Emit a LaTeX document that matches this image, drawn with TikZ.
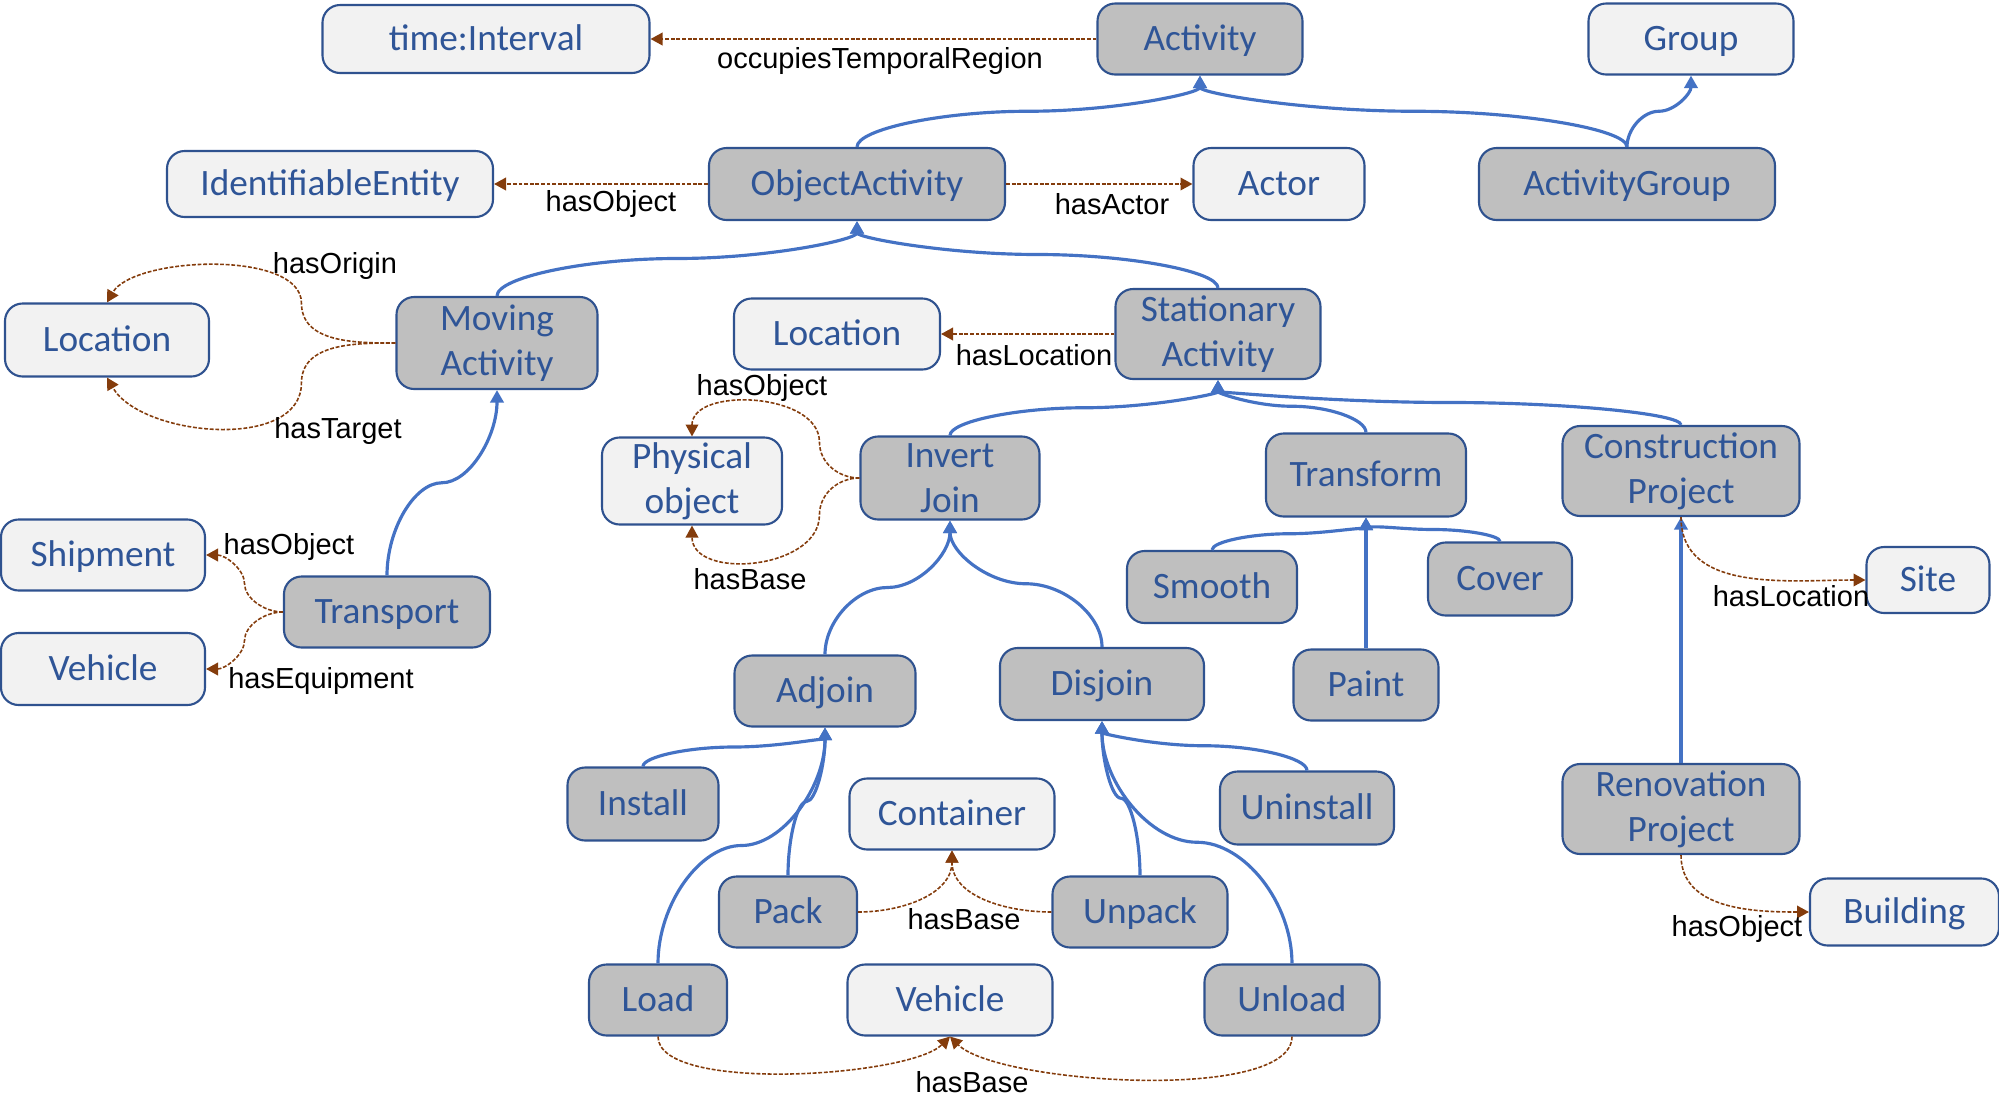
\documentclass[tikz,border=0pt]{standalone}
\usepackage{fontspec}
\setmainfont{Carlito}
\newfontfamily\propfont{Liberation Sans}
\usetikzlibrary{arrows.meta, calc}
\definecolor{boxline}{RGB}{47,82,143}
\definecolor{boxtext}{RGB}{47,85,151}
\definecolor{classfill}{RGB}{191,191,191}
\definecolor{rangefill}{RGB}{242,242,242}
\definecolor{isablue}{RGB}{68,114,196}
\definecolor{propbrown}{RGB}{132,60,12}

\begin{document}
\begin{tikzpicture}[
  actbox/.style={draw=boxline, fill=classfill, line width=0.6pt, rounded corners=5pt, text=boxtext,
    font=\fontsize{10.6}{12.8}\selectfont, align=center, inner sep=0pt, minimum height=0.71cm,
    text height=9.2pt, text depth=2.65pt},
  rangebox/.style={actbox, fill=rangefill},
  twolines/.style={text height={}, text depth={}},
  isa/.style={draw=isablue, line width=0.9pt, -{Triangle[length=3.6pt, width=3.8pt]}},
  prop/.style={draw=propbrown, line width=0.45pt, dash pattern=on 1.1pt off 0.5pt, -{Triangle[length=3.4pt, width=3.6pt]}},
  proplabel/.style={font=\propfont\fontsize{8.25}{10}\selectfont, inner sep=0pt},
  updown/.style={to path={let \p1=(\tikztostart), \p2=(\tikztotarget) in
    .. controls (\x1,{\y1+(\y2-\y1)/4}) and ({\x1+(\x2-\x1)/4},{(\y1+\y2)/2})
    .. ({(\x1+\x2)/2},{(\y1+\y2)/2})
    .. controls ({\x1+3*(\x2-\x1)/4},{(\y1+\y2)/2}) and (\x2,{\y1+3*(\y2-\y1)/4})
    .. (\tikztotarget)}},
  leftright/.style={to path={let \p1=(\tikztostart), \p2=(\tikztotarget) in
    .. controls ({\x1+(\x2-\x1)/4},\y1) and ({(\x1+\x2)/2},{\y1+(\y2-\y1)/4})
    .. ({(\x1+\x2)/2},{(\y1+\y2)/2})
    .. controls ({(\x1+\x2)/2},{\y1+3*(\y2-\y1)/4}) and ({\x1+3*(\x2-\x1)/4},\y2)
    .. (\tikztotarget)}}
]
  \useasboundingbox (0,0) rectangle (19.99,-11.14);

  % top rows
  \node[rangebox, minimum width=3.27cm, minimum height=0.68cm] (timeint) at (4.86,-0.39) {time:Interval};
  \node[actbox, minimum width=2.05cm] (act) at (12.00,-0.39) {Activity};
  \node[rangebox, minimum width=2.05cm] (group) at (16.91,-0.39) {Group};
  \node[rangebox, minimum width=3.26cm, minimum height=0.66cm] (ident) at (3.30,-1.84) {IdentifiableEntity};
  \node[actbox, minimum width=2.96cm, minimum height=0.72cm] (objact) at (8.57,-1.84) {ObjectActivity};
  \node[rangebox, minimum width=1.71cm, minimum height=0.72cm] (actor) at (12.79,-1.84) {Actor};
  \node[actbox, minimum width=2.96cm, minimum height=0.72cm] (actgroup) at (16.27,-1.84) {ActivityGroup};

  \node[rangebox, minimum width=2.04cm, minimum height=0.73cm] (locA) at (1.07,-3.40) {Location};
  \node[actbox, twolines, minimum width=2.01cm, minimum height=0.92cm] (moving) at (4.97,-3.43) {Moving\\Activity};
  \node[rangebox, minimum width=2.06cm] (locB) at (8.37,-3.34) {Location};
  \node[actbox, twolines, minimum width=2.05cm, minimum height=0.90cm] (stat) at (12.18,-3.34) {Stationary\\Activity};

  \node[rangebox, twolines, minimum width=1.80cm, minimum height=0.87cm] (phys) at (6.92,-4.81) {Physical\\object};
  \node[actbox, twolines, minimum width=1.79cm, minimum height=0.83cm] (invjoin) at (9.50,-4.78) {Invert\\Join};
  \node[actbox, minimum width=2.00cm, minimum height=0.83cm] (transform) at (13.66,-4.75) {Transform};
  \node[actbox, twolines, minimum width=2.37cm, minimum height=0.90cm] (constr) at (16.81,-4.71) {Construction\\Project};

  \node[rangebox, minimum width=2.04cm] (ship) at (1.03,-5.55) {Shipment};
  \node[actbox, minimum width=2.06cm] (transport) at (3.87,-6.12) {Transport};
  \node[rangebox, minimum width=2.04cm, minimum height=0.72cm] (vehA) at (1.03,-6.69) {Vehicle};
  \node[actbox, minimum width=1.70cm, minimum height=0.72cm] (smooth) at (12.12,-5.87) {Smooth};
  \node[actbox, minimum width=1.44cm, minimum height=0.73cm] (cover) at (15.00,-5.79) {Cover};
  \node[rangebox, minimum width=1.23cm, minimum height=0.66cm] (site) at (19.28,-5.80) {Site};

  \node[actbox, minimum width=1.81cm] (adjoin) at (8.25,-6.91) {Adjoin};
  \node[actbox, minimum width=2.04cm, minimum height=0.72cm] (disjoin) at (11.02,-6.84) {Disjoin};
  \node[actbox, minimum width=1.45cm] (paint) at (13.66,-6.85) {Paint};

  \node[actbox, minimum width=1.51cm, minimum height=0.73cm] (install) at (6.43,-8.04) {Install};
  \node[rangebox, minimum width=2.05cm] (container) at (9.52,-8.14) {Container};
  \node[actbox, minimum width=1.74cm, minimum height=0.73cm] (uninstall) at (13.07,-8.08) {Uninstall};
  \node[actbox, twolines, minimum width=2.37cm, minimum height=0.90cm] (renov) at (16.81,-8.09) {Renovation\\Project};

  \node[actbox, minimum width=1.38cm] (pack) at (7.88,-9.12) {Pack};
  \node[actbox, minimum width=1.75cm] (unpack) at (11.40,-9.12) {Unpack};
  \node[rangebox, minimum width=1.89cm, minimum height=0.67cm] (building) at (19.045,-9.12) {Building};
  \node[actbox, minimum width=1.38cm] (load) at (6.58,-10.00) {Load};
  \node[rangebox, minimum width=2.05cm] (vehB) at (9.50,-10.00) {Vehicle};
  \node[actbox, minimum width=1.75cm] (unload) at (12.92,-10.00) {Unload};

  % subclass links
  \draw[isa] (objact.north) to[updown] (act.south);
  \draw[isa] (actgroup.north) to[updown] (act.south);
  \draw[isa] (actgroup.north) to[updown] (group.south);
  \draw[isa] (moving.north) to[updown] (objact.south);
  \draw[isa] (stat.north) to[updown] (objact.south);
  \draw[isa] (transport.north) to[updown] (moving.south);
  \draw[isa] (invjoin.north) to[updown] (stat.south);
  \draw[isa] (transform.north) to[updown] (stat.south);
  \draw[isa] (constr.north) to[updown] (stat.south);
  \draw[isa] (adjoin.north) to[updown] (invjoin.south);
  \draw[isa] (disjoin.north) to[updown] (invjoin.south);
  \draw[isa] (smooth.north) to[updown] (transform.south);
  \draw[isa] (paint.north) -- (transform.south);
  \draw[isa] (cover.north) to[updown] (transform.south);
  \draw[isa] (renov.north) -- (constr.south);
  \draw[isa] (install.north) to[updown] (adjoin.south);
  \draw[isa] (pack.north) to[updown] (adjoin.south);
  \draw[isa] (load.north) to[updown] (adjoin.south);
  \draw[isa] (uninstall.north) to[updown] (disjoin.south);
  \draw[isa] (unpack.north) to[updown] (disjoin.south);
  \draw[isa] (unload.north) to[updown] (disjoin.south);

  % properties
  \draw[prop] (act.west) -- (timeint.east);
  \draw[prop] (objact.west) -- (ident.east);
  \draw[prop] (objact.east) -- (actor.west);
  \draw[prop] (moving.west) to[out=180,in=-90] ++(-0.94,0.40) to[out=90,in=60,looseness=0.7] (locA.north);
  \draw[prop] (moving.west) to[out=180,in=90] ++(-0.94,-0.40) to[out=-90,in=-60,looseness=0.9] (locA.south);
  \draw[prop] (stat.west) -- (locB.east);
  \draw[prop] (invjoin.west) to[out=180,in=-90] ++(-0.40,0.36) to[out=90,in=90,looseness=1.0] (phys.north);
  \draw[prop] (invjoin.west) to[out=180,in=90] ++(-0.40,-0.37) to[out=-90,in=-90,looseness=1.1] (phys.south);
  \draw[prop] (transport.west) to[leftright] (ship.east);
  \draw[prop] (transport.west) to[leftright] (vehA.east);
  \draw[prop] (constr.south) to[out=-90,in=180] (site.west);
  \draw[prop] (renov.south) to[out=-90,in=180] (building.west);
  \draw[prop] (pack.east) to[out=0,in=-90] (container.south);
  \draw[prop] (unpack.west) to[out=180,in=-90] (container.south);
  \draw[prop] (load.south) to[out=-90,in=-135,looseness=0.5] (vehB.south);
  \draw[prop] (unload.south) to[out=-90,in=-45,looseness=0.5] (vehB.south);

  \node[proplabel] (ltemporal) at (8.80,-0.61) {occupiesTemporalRegion};
  \node[proplabel] (lobject) at (6.11,-2.04) {hasObject};
  \node[proplabel] (lactor) at (11.12,-2.04) {hasActor};
  \node[proplabel] (lorigin) at (3.35,-2.66) {hasOrigin};
  \node[proplabel] (ltarget) at (3.38,-4.31) {hasTarget};
  \node[proplabel] (lstatloc) at (10.34,-3.55) {hasLocation};
  \node[proplabel] (lphysobj) at (7.62,-3.88) {hasObject};
  \node[proplabel] (lphysbase) at (7.50,-5.79) {hasBase};
  \node[proplabel] (lship) at (2.89,-5.47) {hasObject};
  \node[proplabel] (lequip) at (3.21,-6.81) {hasEquipment};
  \node[proplabel] (lsite) at (17.91,-5.96) {hasLocation};
  \node[proplabel] (lcontainer) at (9.64,-9.19) {hasBase};
  \node[proplabel] (lbuilding) at (17.37,-9.29) {hasObject};
  \node[proplabel] (lvehicle) at (9.72,-10.82) {hasBase};
\end{tikzpicture}
\end{document}
